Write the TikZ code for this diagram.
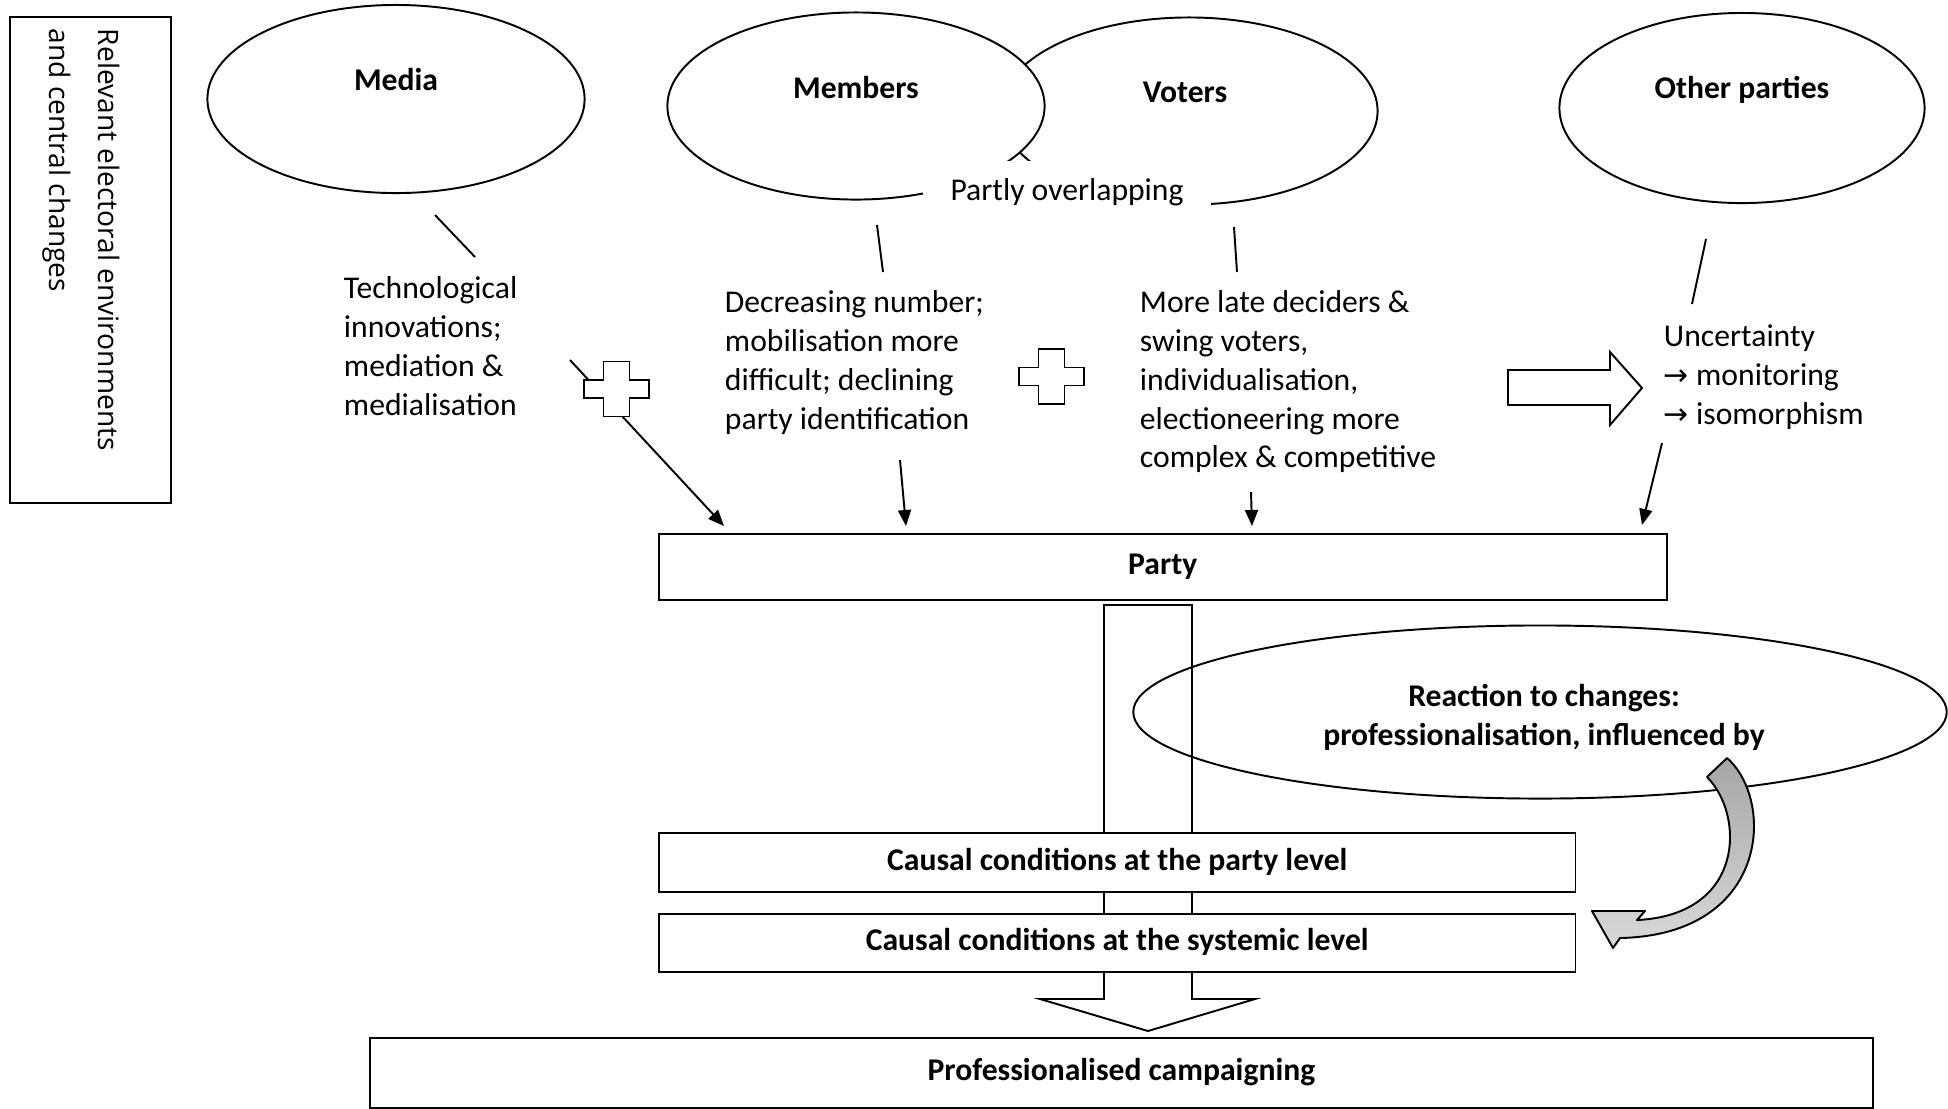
\documentclass[tikz,border=0pt]{standalone}
\usepackage{fontspec}
\setmainfont{Carlito}
\newfontfamily\sidefont{Open Sans}
\newfontfamily\arrowfont{DejaVu Sans}
\usetikzlibrary{shapes.geometric}
\usetikzlibrary{arrows.meta}
\usetikzlibrary{positioning}

\begin{document}
\begin{tikzpicture}[x=0.01cm, y=-0.01cm, line width=0.55pt,
    oval/.style={draw, ellipse, inner sep=0pt},
    box/.style={draw, fill=white, inner sep=0pt, anchor=north west, text height=6.3pt, text depth=2pt, font=\fontsize{9}{11}\selectfont\bfseries},
    note/.style={anchor=north west, inner sep=0pt, align=left, font=\fontsize{9}{11}\selectfont},
    title/.style={anchor=base, inner sep=0pt, font=\fontsize{9}{11}\selectfont\bfseries},
    link/.style={-{Triangle[length=0.16cm, width=0.13cm]}},
    plusbox/.style={draw, fill=white}]
    \useasboundingbox (0,0) rectangle (1948,1108);

    \node[draw, minimum width=1.61cm, minimum height=4.86cm, anchor=north west, inner sep=0pt] (sidebox) at (9,16) {};
    \node[rotate=-90, anchor=north west, inner sep=0pt, align=left, font=\sidefont\fontsize{8}{14}\selectfont] (sidetext) at (121,28) {Relevant electoral environments\\and central changes};

    \node[oval, minimum width=3.77cm, minimum height=1.88cm] (media) at (396,99) {};
    \node[title] (mediatitle) at (396,90) {Media};
    \node[oval, minimum width=3.77cm, minimum height=1.87cm] (voters) at (1189,111) {};
    \node[oval, fill=white, minimum width=3.77cm, minimum height=1.87cm] (members) at (856,106) {};
    \node[title] (memberstitle) at (856,98) {Members};
    \node[title] (voterstitle) at (1185,102) {Voters};
    \node[fill=white, inner xsep=0.27cm, inner ysep=0pt, text height=0.39cm, text depth=0.15cm, anchor=base, font=\fontsize{9}{11}\selectfont] (overlap) at (1067,200) {Partly overlapping};
    \node[oval, minimum width=3.65cm, minimum height=1.90cm] (others) at (1742,108) {};
    \node[title] (otherstitle) at (1742,98) {Other parties};

    \node[note] (mediatext) at (343,276) {Technological\\innovations;\\mediation \&\\medialisation};
    \node[note] (memberstext) at (724,290) {Decreasing number;\\mobilisation more\\difficult; declining\\party identification};
    \node[note] (voterstext) at (1139,290) {More late deciders \&\\swing voters,\\individualisation,\\electioneering more\\complex \& competitive};
    \node[note] (otherstext) at (1663,324) {Uncertainty\\{\arrowfont\fontsize{8.5}{11}\selectfont →} monitoring\\{\arrowfont\fontsize{8.5}{11}\selectfont →} isomorphism};

    \node[box, minimum width=10.07cm, minimum height=0.66cm] (party) at (658,533) {Party};

    \coordinate (a1) at (435,215);
    \coordinate (a2) at (475,257);
    \coordinate (a3) at (570,360);
    \coordinate (a4) at (724,526);
    \coordinate (b1) at (877,225);
    \coordinate (b2) at (883,272);
    \coordinate (b3) at (900,460);
    \coordinate (b4) at (906,526);
    \coordinate (c1) at (1234,227);
    \coordinate (c2) at (1237,272);
    \coordinate (c3) at (1251,492);
    \coordinate (c4) at (1252,526);
    \coordinate (d1) at (1706,239);
    \coordinate (d2) at (1692,304);
    \coordinate (d3) at (1662,443);
    \coordinate (d4) at (1642,525);

    \draw (a1) -- (a2);
    \draw[link] (a3) -- (a4);
    \draw (b1) -- (b2);
    \draw[link] (b3) -- (b4);
    \draw (c1) -- (c2);
    \draw[link] (c3) -- (c4);
    \draw (d1) -- (d2);
    \draw[link] (d3) -- (d4);

    \draw[plusbox, shift={(616.5,389)}] (-13,-27.5) -- (13,-27.5) -- (13,-9) -- (32.5,-9) -- (32.5,9) -- (13,9) -- (13,27.5) -- (-13,27.5) -- (-13,9) -- (-32.5,9) -- (-32.5,-9) -- (-13,-9) -- cycle;
    \draw[plusbox, shift={(1051.5,376.5)}] (-13,-27.5) -- (13,-27.5) -- (13,-9) -- (32.5,-9) -- (32.5,9) -- (13,9) -- (13,27.5) -- (-13,27.5) -- (-13,9) -- (-32.5,9) -- (-32.5,-9) -- (-13,-9) -- cycle;

    \draw[fill=white] (1508,370) -- (1610,370) -- (1610,352) -- (1642,388) -- (1610,425) -- (1610,405) -- (1508,405) -- cycle;

    \draw[fill=white] (1104,605) -- (1192,605) -- (1192,999) -- (1255,999) -- (1148,1031) -- (1040,999) -- (1104,999) -- cycle;

    \node[box, minimum width=9.16cm, minimum height=0.59cm] (partylevel) at (658,832) {Causal conditions at the party level};
    \node[box, minimum width=9.16cm, minimum height=0.58cm] (systemlevel) at (658,913) {Causal conditions at the systemic level};
    \node[box, minimum width=15.02cm, minimum height=0.70cm] (campaign) at (369,1037) {Professionalised campaigning};

    \node[oval, minimum width=8.13cm, minimum height=1.73cm] (reaction) at (1540,712) {};
    \node[title, align=center] (reactiontitle) at (1544,745) {Reaction to changes:\\professionalisation, influenced by};

    \draw[top color=gray!70, bottom color=gray!30, line join=round] (1707,777) -- (1727,758) .. controls (1775,800) and (1770,935) .. (1620,938) -- (1613,948) -- (1592,911) -- (1645,911) -- (1637,920) .. controls (1745,915) and (1745,815) .. (1707,777) -- cycle;
\end{tikzpicture}
\end{document}
